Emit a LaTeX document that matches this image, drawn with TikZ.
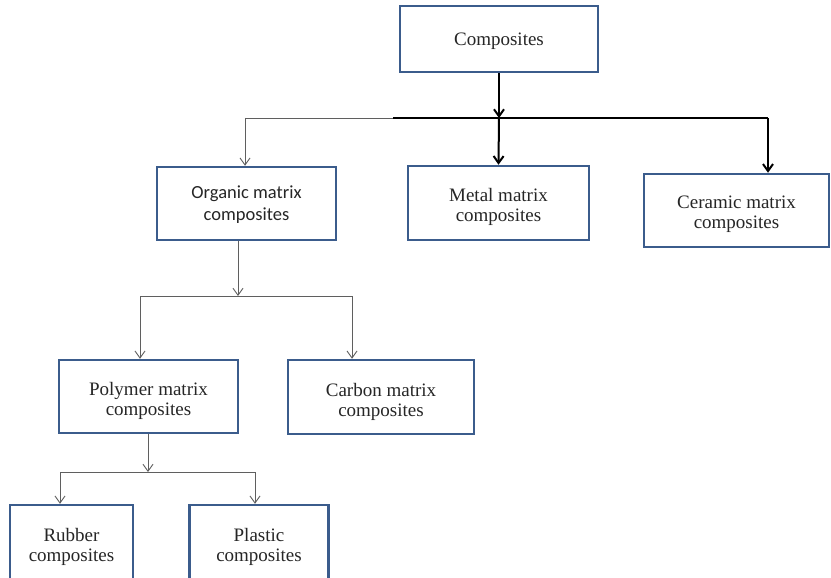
\documentclass[tikz,border=0pt]{standalone}
\usepackage{fontspec}
\setmainfont{Liberation Serif}
\newfontfamily\calib{Carlito}
\usetikzlibrary{arrows.meta}
\definecolor{boxblue}{RGB}{59,92,140}
\definecolor{thingray}{RGB}{95,95,95}
\newcommand\dnbox[2]{\raisebox{-#1}[\height][\depth]{\begin{tabular}{@{}c@{}}#2\end{tabular}}}
\tikzset{
  cbox/.style={draw=boxblue, line width=2.5pt, fill=white, align=center,
    font=\fontsize{19}{20}\selectfont, text=black!85, inner sep=0pt},
  thinline/.style={draw=thingray, line width=0.9pt},
  thickline/.style={draw=black, line width=2pt},
  tipped/.style={-{Straight Barb[length=7pt,width=10pt]}},
}
\begin{document}
\begin{tikzpicture}[x=1pt,y=-1pt]
\clip (0,0) rectangle (831,578);
\fill[white] (0,0) rectangle (831,578);
% boxes
\node[cbox, minimum width=198pt, minimum height=66pt] (comp) at (499,39) {\dnbox{3pt}{Composites}};
\node[cbox, minimum width=179pt, minimum height=73pt, font=\calib\fontsize{18.5}{22}\selectfont] (org) at (246.5,203.5) {\dnbox{2pt}{Organic matrix\\composites}};
\node[cbox, minimum width=181pt, minimum height=74pt] (metal) at (498.5,203) {\dnbox{4.5pt}{Metal matrix\\composites}};
\node[cbox, minimum width=185pt, minimum height=73pt] (cer) at (736.5,210.5) {\dnbox{4pt}{Ceramic matrix\\composites}};
\node[cbox, minimum width=179pt, minimum height=73pt] (poly) at (148.5,396.5) {\dnbox{5pt}{Polymer matrix\\composites}};
\node[cbox, minimum width=186pt, minimum height=74pt] (carb) at (381,397) {\dnbox{5pt}{Carbon matrix\\composites}};
\node[cbox, minimum width=123pt, minimum height=80pt] (rub) at (71.5,545) {\dnbox{2pt}{Rubber\\composites}};
\node[cbox, minimum width=139pt, minimum height=80pt] (plas) at (259,545) {\dnbox{2pt}{Plastic\\composites}};
% junctions
\coordinate (j1) at (499,118);
\coordinate (jl) at (245,118);
\coordinate (jm) at (393,118);
\coordinate (jr) at (768,118);
\coordinate (j2) at (238,296);
\coordinate (j2l) at (140,296);
\coordinate (j2r) at (352,296);
\coordinate (j3) at (148,472);
\coordinate (j3l) at (60,472);
\coordinate (j3r) at (255,472);
% level 1
\draw[thickline, tipped] (comp.south) -- (j1);
\draw[thinline] (jl) -- (jm);
\draw[thickline] (jm) -- (jr);
\draw[thickline, tipped] (j1) -- (metal.north);
\draw[thickline, tipped] (jr) -- (jr |- cer.north);
\draw[thinline, tipped] (jl) -- (jl |- org.north);
% level 2
\draw[thinline, tipped] (j2 |- org.south) -- (j2);
\draw[thinline] (j2l) -- (j2r);
\draw[thinline, tipped] (j2l) -- (j2l |- poly.north);
\draw[thinline, tipped] (j2r) -- (j2r |- carb.north);
% level 3
\draw[thinline, tipped] (j3 |- poly.south) -- (j3);
\draw[thinline] (j3l) -- (j3r);
\draw[thinline, tipped] (j3l) -- (j3l |- rub.north);
\draw[thinline, tipped] (j3r) -- (j3r |- plas.north);
\end{tikzpicture}
\end{document}
